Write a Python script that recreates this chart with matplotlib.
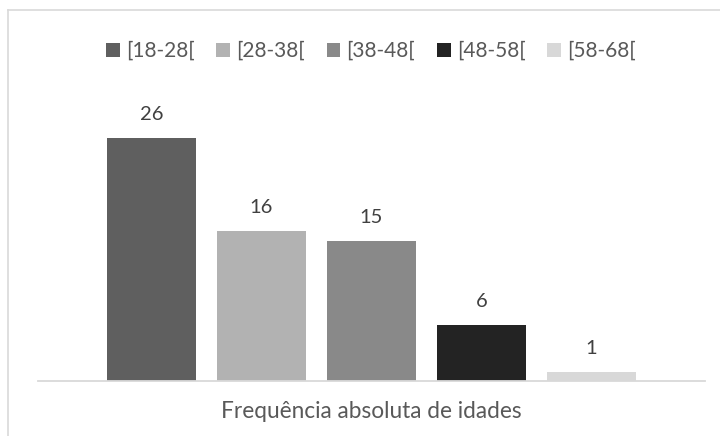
import matplotlib
matplotlib.use("Agg")
import matplotlib.pyplot as plt
from matplotlib.patches import Patch
from matplotlib.lines import Line2D

categories = ["[18-28[", "[28-38[", "[38-48[", "[48-58[", "[58-68["]
values = [26, 16, 15, 6, 1]
colors = ["#5f5f5f", "#b2b2b2", "#898989", "#232323", "#d8d8d8"]
title = "Frequência absoluta de idades"

W, H = 720, 436
plt.rcParams['font.family'] = ['Lato', 'DejaVu Sans']
fig = plt.figure(figsize=(W / 100, H / 100), dpi=100)
fig.patch.set_facecolor("white")

# frame border (light gray, top and left visible)
fig.add_artist(Line2D([8 / W, 8 / W], [0, 1 - 10 / H], color="#d9d9d9", lw=1.2, transform=fig.transFigure))
fig.add_artist(Line2D([8 / W, 1], [1 - 10 / H, 1 - 10 / H], color="#d9d9d9", lw=1.2, transform=fig.transFigure))

ax_left, ax_right = 38, 705
ax_bottom, ax_top = 381, 100.5
ax = fig.add_axes([ax_left / W, 1 - ax_bottom / H, (ax_right - ax_left) / W, (ax_bottom - ax_top) / H])
ax.set_facecolor("none")

x = list(range(len(values)))
bars = ax.bar(x, values, width=89 / 110, color=colors)
for xi, v in zip(x, values):
    ax.annotate(str(v), (xi, v), xytext=(0, 17), textcoords="offset points",
                ha="center", va="center", fontsize=14.5, color="#404040")

ax.set_xlim(-1.03, 5.03)
ax.set_ylim(0, 30)
for s in ["top", "right", "left"]:
    ax.spines[s].set_visible(False)
ax.spines["bottom"].set_color("#d9d9d9")
ax.spines["bottom"].set_linewidth(1.3)
ax.set_xticks([])
ax.set_yticks([])

handles = [Patch(facecolor=c, edgecolor="none") for c in colors]
fig.legend(handles, categories, loc="center", bbox_to_anchor=(371 / W, 1 - 51 / H),
           ncol=5, frameon=False, fontsize=15, handlelength=0.65, handleheight=0.65,
           handletextpad=0.3, columnspacing=1.05, labelcolor="#595959")

fig.text(371.5 / W, 1 - 411 / H, title, ha="center", va="center", fontsize=16.3, color="#595959")

fig.savefig("out.png", dpi=100)
